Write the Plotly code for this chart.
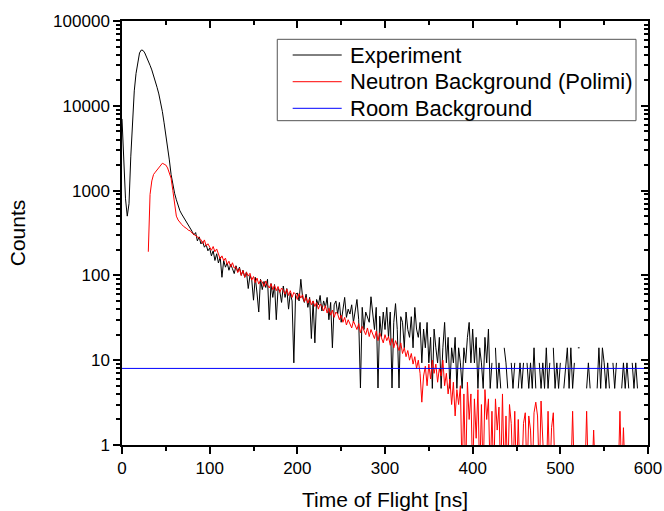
import plotly.graph_objects as go

# ---------------- data ----------------
exp_time = list(range(0, 590, 2))  # ns, bin centres
exp_counts = [
    7000, 2200, 800, 500, 700, 2500, 7500, 15000, 24000, 34000,
    42000, 45500, 45000, 42000, 38000, 34000, 30000, 26500, 23000, 19500,
    16500, 13800, 11200, 8600, 6300, 4600, 3300, 2300, 1550, 1150,
    930, 780, 670, 580, 530, 490, 455, 420, 400, 370,
    330, 300, 320, 255, 285, 235, 250, 215, 230, 195,
    210, 170, 195, 150, 180, 140, 165, 95, 150, 125,
    140, 115, 135, 120, 105, 130, 110, 125, 100, 115,
    95, 110, 70, 100, 88, 51, 95, 62, 37, 90,
    68, 85, 72, 90, 30, 80, 55, 78, 30, 70,
    65, 48, 75, 55, 70, 40, 62, 50, 9.3, 60,
    62, 50, 90, 55, 48, 60, 42, 55, 18, 50,
    16, 52, 45, 58, 38, 50, 42, 55, 30, 48,
    14, 45, 50, 35, 48, 28, 42, 55, 32, 40,
    35, 45, 28, 40, 52, 30, 4.7, 42, 23, 37,
    33, 28, 56, 37, 23, 42, 4.7, 33, 19, 37,
    23, 42, 18.6, 37, 4.7, 28, 46.5, 23, 4.7, 32.6,
    28, 14, 37, 23, 18.6, 32.6, 14, 41.9, 23.3, 18.6,
    27.9, 9.3, 23.3, 14, 27.9, 9.3, 18.6, 4.65, 23.3, 14,
    9.3, 18.6, 4.65, 14, 27.9, 9.3, 18.6, 4.65, 14, 9.3,
    18.6, 4.65, 14, 9.3, 4.65, 14, 9.3, 18.6, 27.9, 9.3,
    23.3, 9.3, 18.6, 4.65, 14, 9.3, 4.65, 18.6, 9.3, 23.3,
    4.65, 9.3, None, 14, 4.65, 9.3, 4.65, None, 14, 9.3,
    4.65, None, 9.3, 4.65, 9.3, None, 4.65, 9.3, 4.65, 9.3,
    None, 9.3, 4.65, 9.3, 4.65, 14, 4.65, None, 9.3, 4.65,
    9.3, 4.65, 14, 4.65, 9.3, None, 14, 4.65, 9.3, 4.65,
    9.3, None, 4.65, 9.3, 14, 4.65, 14, 4.65, 9.3, None,
    14, 14, None, None, None, 4.65, 9.3, 4.65, None, None,
    None, 4.65, 14, 4.65, 14, 9.3, 4.65, 9.3, 4.65, None,
    9.3, 4.65, 9.3, None, None, 4.65, 9.3, 4.65, 9.3, 4.65,
    None, 9.3, 4.65, 9.3, 4.65,
]

sim_time = list(range(30, 592, 2))  # ns
sim_counts = [
    190, 900, 1300, 1550, 1650, 1750, 1850, 1950, 2100, 2050,
    2000, 1850, 1650, 1400, 1000, 720, 500, 450, 420, 400,
    380, 370, 355, 340, 335, 315, 305, 295, 290, 275,
    265, 238, 262, 222, 236, 214, 198, 219, 190, 205,
    178, 156, 170, 149, 160, 135, 147, 126, 141, 122,
    126, 108, 121, 100, 114, 95, 109, 98, 106, 88,
    97, 82, 93, 79, 88, 84, 74, 86, 77, 71,
    80, 68, 76, 66, 74, 63, 71, 67, 60, 69,
    58, 66, 55, 63, 60, 52, 61, 54, 59, 49,
    55, 47, 53, 45, 50, 43, 48, 40, 46, 43,
    38, 44, 36, 41, 34, 39, 32, 37, 35, 30,
    34, 28, 32, 26, 30, 27, 24, 29, 25, 23,
    27, 21, 25, 22, 20, 24, 19, 23, 20, 18,
    22, 17, 21, 18, 16, 20, 17, 19, 15, 18,
    14, 17, 15, 13, 16, 12, 14, 11, 13, 10,
    12, 9, 11, 8, 10, 7, 3.2, 6.5, 8.5, 5,
    9, 6, 10, 7, 9, 5.5, 8, 6.5, 10, 5,
    7, 4, 6, 3, 5.5, 2.2, 4.5, 3, 5, 0.4,
    4, 0.4, 5.5, 2, 4, 0.4, 3.5, 1.2, 4.5, 0.4,
    3, 0.4, 4.5, 2, 3.5, 0.4, 2.5, 0.4, 3.5, 1.5,
    2.8, 0.4, 4, 0.4, 2.2, 0.4, 3, 1.8, 0.4, 2.5,
    0.4, 2, 0.4, 0.4, 1.8, 2.4, 0.4, 2.2, 1.5, 0.4,
    2.4, 3.2, 2.2, 0.4, 3.3, 1.4, 0.4, 0.4, 2.5, 0.4,
    1.6, 2.4, 0.4, 0.4, 0.4, 0.4, 0.4, 0.4, 0.4, 0.4,
    0.4, 0.4, 2.5, 0.4, 0.4, 0.4, 0.4, 0.4, 0.4, 0.4,
    2.5, 0.4, 0.4, 0.4, 1.5, 0.4, 0.4, 0.4, 0.4, 0.4,
    0.4, 0.4, 0.4, 0.4, 0.4, 0.4, 0.4, 0.4, 0.4, 2.5,
    0.4, 1.6, 0.4, 0.4, 0.4, 0.4, 0.4, 0.4, None, 1.6,
    None,
]

room_time = [0, 600]
room_counts = [8.0, 8.0]

y_tick_vals = [1, 10, 100, 1000, 10000, 100000]
y_tick_text = ["1", "10", "100", "1000", "10000", "100000"]

series_names = ["Experiment", "Neutron Background (Polimi)", "Room Background"]
series_colors = ["#000000", "#ff0000", "#0000ff"]

# ---------------- figure ----------------
FONT = "Liberation Sans, Arial, sans-serif"

fig = go.Figure()
fig.add_trace(go.Scatter(x=exp_time, y=exp_counts, mode="lines", name=series_names[0],
                         line=dict(color=series_colors[0], width=1), connectgaps=False))
fig.add_trace(go.Scatter(x=sim_time, y=sim_counts, mode="lines", name=series_names[1],
                         line=dict(color=series_colors[1], width=1), connectgaps=False))
fig.add_trace(go.Scatter(x=room_time, y=room_counts, mode="lines", name=series_names[2],
                         line=dict(color=series_colors[2], width=1)))
# helper trace so the mirrored top/right frame axes are drawn
fig.add_trace(go.Scatter(x=[None], y=[None], xaxis="x2", yaxis="y2",
                         showlegend=False, hoverinfo="skip"))

axis_common = dict(showgrid=False, zeroline=False, showline=True, linecolor="black",
                   linewidth=1.5, tickcolor="black", tickwidth=1.5, automargin=False)

# ----- Origin-style legend box (paper coordinates) -----
LEG_X0, LEG_X1, LEG_Y0, LEG_Y1 = 0.2952, 0.9772, 0.7649, 0.9568
LEG_LINE_X0, LEG_LINE_X1, LEG_TEXT_X = 0.3245, 0.4177, 0.4302
LEG_ROWS = [0.9198, 0.8568, 0.7941]

shapes = [dict(type="rect", xref="paper", yref="paper", x0=LEG_X0, x1=LEG_X1,
               y0=LEG_Y0, y1=LEG_Y1, line=dict(color="#555555", width=1),
               fillcolor="white", layer="above")]
annotations = []
for name, color, yrow in zip(series_names, series_colors, LEG_ROWS):
    shapes.append(dict(type="line", xref="paper", yref="paper", x0=LEG_LINE_X0,
                       x1=LEG_LINE_X1, y0=yrow, y1=yrow, line=dict(color=color, width=1),
                       layer="above"))
    annotations.append(dict(xref="paper", yref="paper", x=LEG_TEXT_X, y=yrow, text=name,
                            showarrow=False, xanchor="left", yanchor="middle",
                            font=dict(size=22, family=FONT, color="black")))

fig.update_layout(
    width=664, height=511,
    margin=dict(l=122, r=16, t=21, b=66),
    paper_bgcolor="white", plot_bgcolor="white",
    font=dict(family=FONT, color="black"),
    xaxis=dict(range=[0, 600], dtick=100, ticks="outside", ticklen=7,
               tickfont=dict(size=17),
               minor=dict(dtick=50, ticks="outside", ticklen=4, tickcolor="black", tickwidth=1.5),
               title=dict(text="Time of Flight [ns]", font=dict(size=21), standoff=16),
               **axis_common),
    xaxis2=dict(range=[0, 600], dtick=100, overlaying="x", side="top", ticks="inside",
                ticklen=7, showticklabels=False,
                minor=dict(dtick=50, ticks="inside", ticklen=4, tickcolor="black", tickwidth=1.5),
                **axis_common),
    yaxis=dict(type="log", range=[0, 5], tickvals=y_tick_vals, ticktext=y_tick_text,
               ticks="outside", ticklen=7, tickfont=dict(size=17),
               minor=dict(dtick="D1", ticks="outside", ticklen=4, tickcolor="black", tickwidth=1.5),
               title=dict(text="Counts", font=dict(size=21), standoff=22),
               **axis_common),
    yaxis2=dict(type="log", range=[0, 5], overlaying="y", side="right", tickvals=y_tick_vals,
                ticks="inside", ticklen=7, showticklabels=False,
                minor=dict(dtick="D1", ticks="inside", ticklen=4, tickcolor="black", tickwidth=1.5),
                **axis_common),
    showlegend=False,
    shapes=shapes,
    annotations=annotations,
)

fig.write_html("out.html")
